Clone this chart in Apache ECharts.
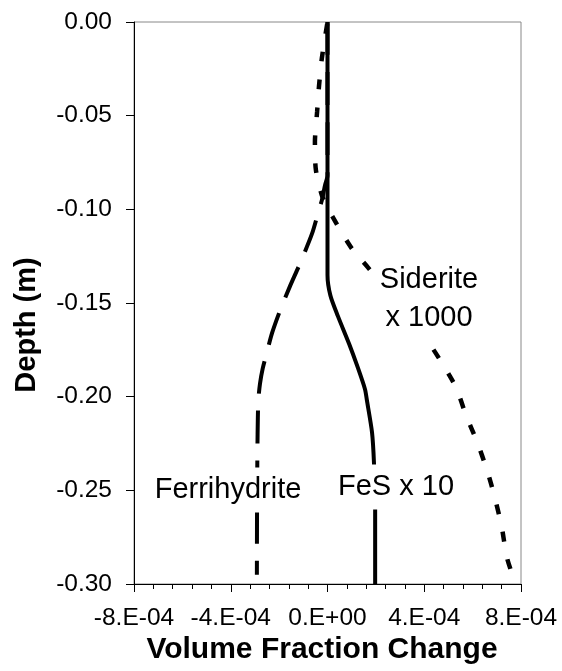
<!DOCTYPE html>
<html>
<head>
<meta charset="utf-8">
<script src="https://cdn.jsdelivr.net/npm/echarts@6/dist/echarts.min.js"></script>
<style>
html,body{margin:0;padding:0;background:#fff;}
#chart{width:562px;height:671px;}
</style>
</head>
<body>
<div id="chart"></div>
<script>
// Depth (m) and volume fraction change values
const fesDepth = [0, -0.135, -0.146, -0.157, -0.172, -0.184, -0.196, -0.202, -0.219, -0.235, -0.259, -0.300];
const fesValue = [0, 0, 1.2e-5, 4.3e-5, 9.0e-5, 1.24e-4, 1.55e-4, 1.63e-4, 1.84e-4, 1.92e-4, 1.97e-4, 1.97e-4];

const ferriDepth = [0, -0.082, -0.087, -0.095, -0.102, -0.113, -0.129, -0.141, -0.154, -0.166, -0.177, -0.185, -0.193, -0.202, -0.220, -0.250, -0.295];
const ferriValue = [0, 0, -1.0e-5, -2.3e-5, -3.9e-5, -6.4e-5, -1.14e-4, -1.55e-4, -1.96e-4, -2.29e-4, -2.52e-4, -2.68e-4, -2.79e-4, -2.86e-4, -2.89e-4, -2.91e-4, -2.92e-4];

const sidDepth = [0, -0.019, -0.034, -0.048, -0.064, -0.079, -0.094, -0.108, -0.121, -0.131, -0.150, -0.169, -0.182, -0.195, -0.210, -0.224, -0.239, -0.254, -0.270, -0.286, -0.300];
const sidValue = [0, -2.3e-5, -3.5e-5, -4.3e-5, -5.2e-5, -4.8e-5, -1.9e-5, 3.9e-5, 1.01e-4, 1.67e-4, 2.9e-4, 4.07e-4, 4.73e-4, 5.31e-4, 5.73e-4, 6.18e-4, 6.59e-4, 6.92e-4, 7.21e-4, 7.42e-4, 7.78e-4];

const xMin = -8e-4, xMax = 8e-4, xStep = 4e-4;
const yMin = -0.30, yMax = 0, yStep = 0.05;

const seriesLabels = ['FeS x 10', 'Ferrihydrite', 'Siderite\nx 1000'];
const xTitle = 'Volume Fraction Change';
const yTitle = 'Depth (m)';

function pairs(vals, depths) { return depths.map((d, i) => [vals[i], d]); }
function fmtX(v) {
  if (Math.abs(v) < 1e-12) return '0.E+00';
  const s = v.toExponential(0);
  const parts = s.split('e');
  const e = parseInt(parts[1], 10);
  return parts[0] + '.E' + (e < 0 ? '-' : '+') + String(Math.abs(e)).padStart(2, '0');
}

const FONT = '"Liberation Sans", Arial, sans-serif';
const chart = echarts.init(document.getElementById('chart'), null, {renderer: 'canvas'});

const option = {
  animation: false,
  backgroundColor: '#fff',
  grid: {left: 134, right: 41, top: 22, bottom: 87, show: true, borderColor: '#888', borderWidth: 1, backgroundColor: 'transparent'},
  xAxis: {
    type: 'value', min: xMin, max: xMax, interval: xStep,
    axisLine: {show: true, onZero: false, lineStyle: {color: '#000', width: 1}},
    axisTick: {show: true, length: 8, lineStyle: {color: '#000', width: 1}},
    minorTick: {show: true, splitNumber: 5, length: 5, lineStyle: {color: '#000', width: 1}},
    splitLine: {show: false},
    axisLabel: {formatter: fmtX, color: '#000', fontSize: 24.5, fontFamily: FONT, margin: 22}
  },
  yAxis: {
    type: 'value', min: yMin, max: yMax, interval: yStep,
    axisLine: {show: true, onZero: false, lineStyle: {color: '#000', width: 1}},
    axisTick: {show: true, length: 8, lineStyle: {color: '#000', width: 1}},
    splitLine: {show: false},
    axisLabel: {formatter: v => v.toFixed(2), color: '#000', fontSize: 24.5, fontFamily: FONT, margin: 22}
  },
  series: [
    {name: 'FeS', type: 'line', data: pairs(fesValue, fesDepth), showSymbol: false, symbol: 'none',
     smooth: 0.25,
     lineStyle: {color: '#000', width: 4, type: 'solid'}, z: 3},
    {name: 'Ferrihydrite', type: 'line', data: pairs(ferriValue, ferriDepth), showSymbol: false, symbol: 'none',
     smooth: 0.25,
     lineStyle: {color: '#000', width: 4, type: [33, 17], cap: 'butt'}, z: 2},
    {name: 'Siderite', type: 'line', data: pairs(sidValue, sidDepth), showSymbol: false, symbol: 'none',
     smooth: 0.25,
     lineStyle: {color: '#000', width: 4.5, type: [10, 18], dashOffset: -2, cap: 'butt'}, z: 2}
  ],
  graphic: [
    {type: 'text', z: 100, style: {text: seriesLabels[0], x: 396, y: 487, align: 'center', verticalAlign: 'middle',
      font: '29px ' + FONT, fill: '#000', backgroundColor: '#fff', padding: [8, 4]}},
    {type: 'text', z: 100, style: {text: seriesLabels[1], x: 228, y: 490, align: 'center', verticalAlign: 'middle',
      font: '29px ' + FONT, fill: '#000', backgroundColor: '#fff', padding: [8, 4]}},
    {type: 'text', z: 100, style: {text: seriesLabels[2], x: 429, y: 299, align: 'center', verticalAlign: 'middle',
      font: '29px ' + FONT, lineHeight: 38, fill: '#000', backgroundColor: '#fff', padding: [6, 6]}},
    {type: 'text', z: 100, style: {text: xTitle, x: 322, y: 650, align: 'center', verticalAlign: 'middle',
      font: 'bold 30px ' + FONT, fill: '#000'}},
    {type: 'text', z: 100, rotation: Math.PI / 2, x: 27, y: 325, style: {text: yTitle, x: 0, y: 0, align: 'center', verticalAlign: 'middle',
      font: 'bold 29px ' + FONT, fill: '#000'}}
  ]
};
chart.setOption(option);
</script>
</body>
</html>
